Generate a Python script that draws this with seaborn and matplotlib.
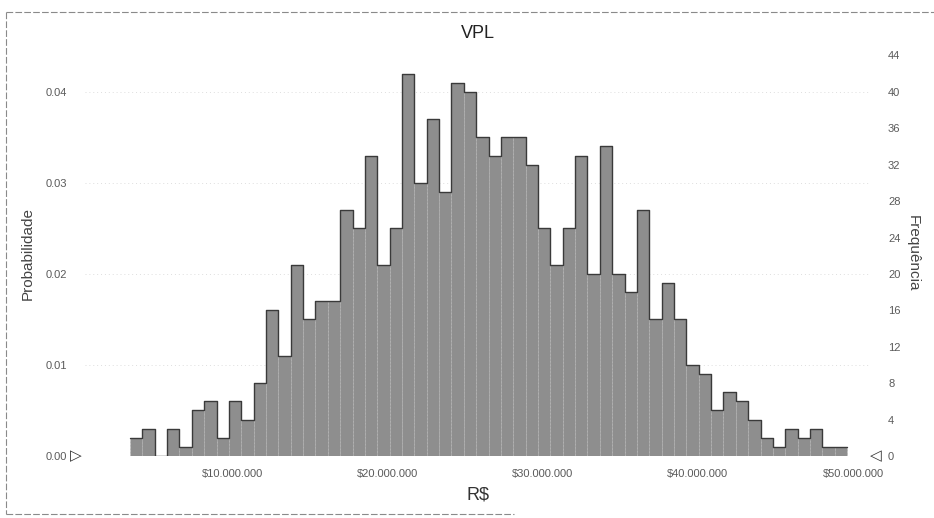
import numpy as np
import pandas as pd
import matplotlib
matplotlib.use("Agg")
import matplotlib.pyplot as plt
import seaborn as sns
from matplotlib.lines import Line2D

# ---- data (Crystal Ball style forecast, 1000 trials) ----
title = "VPL"
x_label = "R$"
y_label_left = "Probabilidade"
y_label_right = "Frequência"
trials = 1000
bin_start = 3.4e6          # left edge of first bin (R$)
bin_width = 0.797e6        # bin width (R$)
frequencies = [2, 3, 0, 3, 1, 5, 6, 2, 6, 4, 8, 16, 11, 21, 15, 17, 17, 27, 25, 33,
               21, 25, 42, 30, 37, 29, 41, 40, 35, 33, 35, 35, 32, 25, 21, 25, 33, 20,
               34, 20, 18, 27, 15, 19, 15, 10, 9, 5, 7, 6, 4, 2, 1, 3, 2, 3, 1, 1]
x_ticks = [10e6, 20e6, 30e6, 40e6, 50e6]
x_tick_labels = ["$10.000.000", "$20.000.000", "$30.000.000", "$40.000.000", "$50.000.000"]
prob_ticks = [0.00, 0.01, 0.02, 0.03, 0.04]
prob_tick_labels = ["0.00", "0.01", "0.02", "0.03", "0.04"]
freq_ticks = [0, 4, 8, 12, 16, 20, 24, 28, 32, 36, 40, 44]

edges = list(bin_start + bin_width * np.arange(len(frequencies) + 1))
centers = [(edges[i] + edges[i + 1]) / 2 for i in range(len(frequencies))]
df = pd.DataFrame({"vpl": centers, "prob": np.array(frequencies) / trials})

sns.set_theme(style="white")
plt.rcParams["font.family"] = ["Liberation Sans", "DejaVu Sans"]

W, H = 934, 518
fig = plt.figure(figsize=(W / 100, H / 100), dpi=100)
fig.patch.set_facecolor("white")
ax_l, ax_r, ax_t, ax_b = 85, 870, 50, 456
ax = fig.add_axes([ax_l / W, 1 - ax_b / H, (ax_r - ax_l) / W, (ax_b - ax_t) / H])

bar_face = "#8e8e8e"
sns.histplot(data=df, x="vpl", weights="prob", bins=edges, stat="count",
             element="bars", color=bar_face, alpha=1.0, edgecolor="#b4b4b4",
             linewidth=0.5, linestyle=(0, (2, 3)), ax=ax)
sns.histplot(data=df, x="vpl", weights="prob", bins=edges, stat="count",
             element="step", fill=False, color="#3a3a3a", linewidth=1.0, ax=ax)

ymax = 0.0446
ax.set_ylim(0, ymax)
ax.set_xlim(0.5e6, 51.1e6)
ax.grid(False)
ax.yaxis.grid(True, color="#dedede", linestyle=(0, (1, 3)), linewidth=0.7)
ax.set_axisbelow(True)
for s in ax.spines.values():
    s.set_visible(False)

tick_color = "#5a5a5a"
ax.set_xticks(x_ticks)
ax.set_xticklabels([t.replace("$", r"\$") for t in x_tick_labels])
ax.set_yticks(prob_ticks)
ax.set_yticklabels(prob_tick_labels)
ax.tick_params(axis="x", length=0, pad=9, labelsize=8, labelcolor=tick_color)
ax.tick_params(axis="y", length=0, pad=13, labelsize=8, labelcolor=tick_color)
ax.set_xlabel(x_label.replace("$", r"\$"), fontsize=13, color="#333333", labelpad=6)
ax.set_ylabel(y_label_left, fontsize=11, color="#444444", labelpad=8)
ax.set_title(title, fontsize=13, color="#222222", pad=9)

ax2 = ax.twinx()
ax2.set_ylim(0, ymax * trials)
ax2.set_yticks(freq_ticks)
ax2.set_yticklabels([str(t) for t in freq_ticks])
ax2.tick_params(axis="y", length=0, pad=13, labelsize=8, labelcolor=tick_color)
ax2.set_ylabel(y_label_right, fontsize=11, color="#444444", rotation=270, labelpad=14)
ax2.grid(False)
for s in ax2.spines.values():
    s.set_visible(False)

# certainty grabbers at both ends of the axis
ax.text(-0.004, 0.0, "\u25B7", transform=ax.transAxes, ha="right", va="center",
        fontsize=11, color="#333333", family=["DejaVu Sans"])
ax.text(1.0, 0.0, "\u25C1", transform=ax.transAxes, ha="left", va="center",
        fontsize=11, color="#333333", family=["DejaVu Sans"])

# scanned frame around the chart
frame_kw = dict(color="#8a8a8a", linewidth=0.8, linestyle=(0, (6, 2)), transform=fig.transFigure)
fig.add_artist(Line2D([6 / W, 6 / W], [1 - 12 / H, 1 - 514 / H], **frame_kw))
fig.add_artist(Line2D([6 / W, 1.0], [1 - 12 / H, 1 - 12 / H], **frame_kw))
fig.add_artist(Line2D([6 / W, 0.55], [1 - 514 / H, 1 - 514 / H], **frame_kw))

fig.savefig("out.png", dpi=100)
